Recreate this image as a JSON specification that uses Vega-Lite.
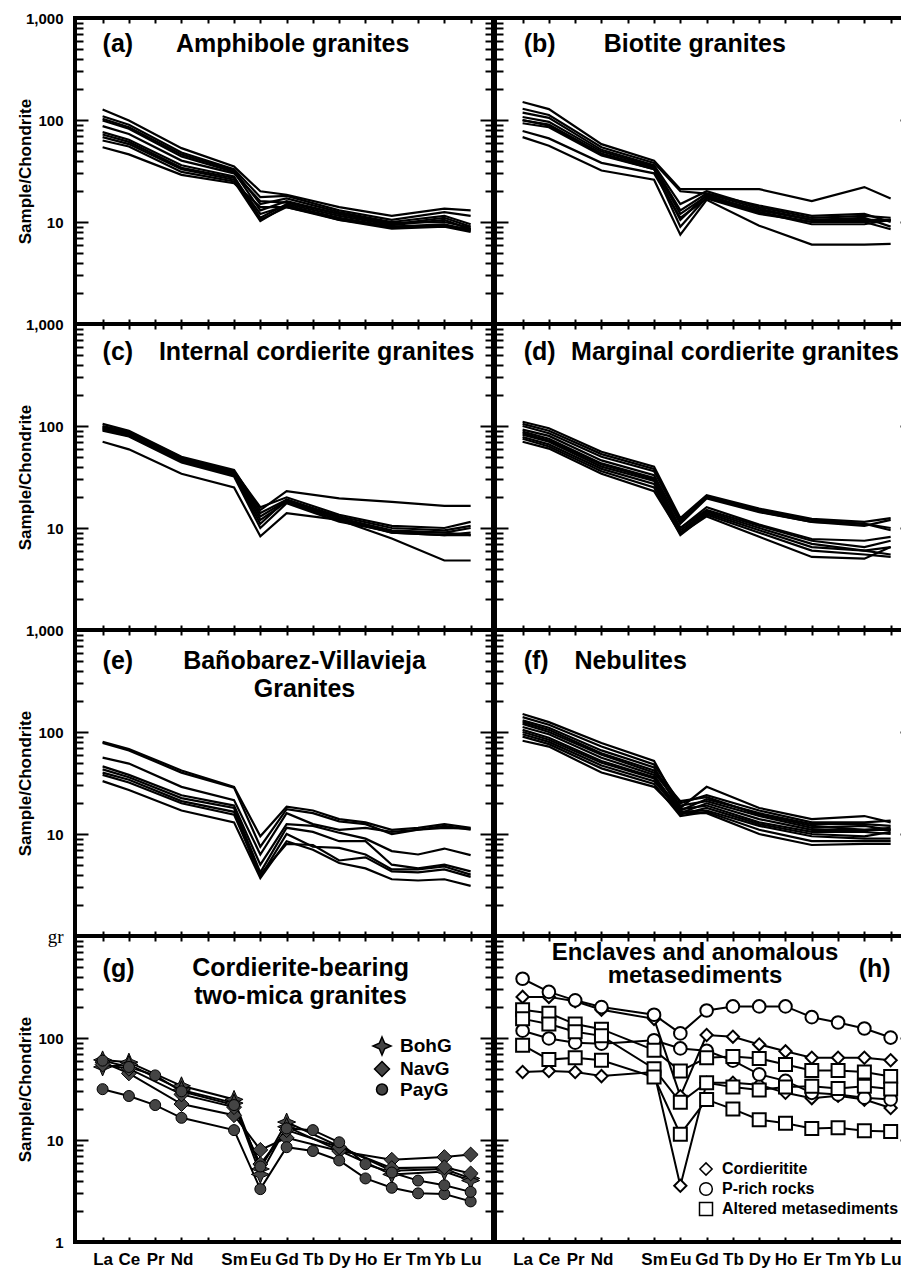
{
"$schema":"https://vega.github.io/schema/vega-lite/v6.json",
"padding":{"left":14,"top":9,"right":0,"bottom":0},
"background":"white",
"config":{
 "view":{"stroke":"black","strokeWidth":4},
 "axis":{"tickColor":"black","tickWidth":2,"domain":false,"grid":false,"labelColor":"black","labelFont":"Liberation Sans","labelFontWeight":"bold","labelFontSize":15,"labelBound":false,"titleFont":"Liberation Sans","titleFontWeight":"bold","titleFontSize":17,"titleColor":"black"},
 "text":{"font":"Liberation Sans","color":"black"}
},
"datasets":{
 "els":[{"el":"La","i":1},{"el":"Ce","i":2},{"el":"Pr","i":3},{"el":"Nd","i":4},{"el":"Sm","i":6},{"el":"Eu","i":7},{"el":"Gd","i":8},{"el":"Tb","i":9},{"el":"Dy","i":10},{"el":"Ho","i":11},{"el":"Er","i":12},{"el":"Tm","i":13},{"el":"Yb","i":14},{"el":"Lu","i":15}],
 "ree":[
  {"p":"a","s":"a1","La":127,"Ce":99,"Nd":53,"Sm":35,"Eu":20,"Gd":18.5,"Dy":14,"Er":11.5,"Yb":13.5,"Lu":13},
  {"p":"a","s":"a2","La":109,"Ce":90,"Nd":48,"Sm":33,"Eu":17.5,"Gd":18,"Dy":13,"Er":10.5,"Yb":12.5,"Lu":11.5},
  {"p":"a","s":"a3","La":103,"Ce":85,"Nd":46,"Sm":32,"Eu":15,"Gd":17,"Dy":12.5,"Er":10,"Yb":11.5,"Lu":9.5},
  {"p":"a","s":"a4","La":99,"Ce":82,"Nd":44,"Sm":31,"Eu":13,"Gd":16,"Dy":12,"Er":9.5,"Yb":11,"Lu":9},
  {"p":"a","s":"a5","La":87,"Ce":73,"Nd":40,"Sm":30,"Eu":16,"Gd":15.5,"Dy":12,"Er":9.8,"Yb":10,"Lu":8.8},
  {"p":"a","s":"a6","La":76,"Ce":64,"Nd":36,"Sm":28,"Eu":11,"Gd":15,"Dy":11.5,"Er":9.3,"Yb":10.5,"Lu":8.5},
  {"p":"a","s":"a7","La":72,"Ce":61,"Nd":34,"Sm":27,"Eu":12,"Gd":14.5,"Dy":11,"Er":9,"Yb":9.5,"Lu":8.3},
  {"p":"a","s":"a8","La":68,"Ce":58,"Nd":33,"Sm":26,"Eu":10.5,"Gd":14,"Dy":10.8,"Er":8.8,"Yb":9.3,"Lu":8.2},
  {"p":"a","s":"a9","La":63,"Ce":55,"Nd":31,"Sm":25,"Eu":10.2,"Gd":14.5,"Dy":10.5,"Er":8.6,"Yb":9,"Lu":8},
  {"p":"a","s":"a10","La":54,"Ce":46,"Nd":29,"Sm":24,"Eu":14,"Gd":14,"Dy":10.5,"Er":9,"Yb":9.2,"Lu":8.5},
  {"p":"b","s":"b1","La":150,"Ce":128,"Nd":58,"Sm":40,"Eu":21,"Gd":21,"Dy":21,"Er":16,"Yb":22,"Lu":17},
  {"p":"b","s":"b2","La":129,"Ce":112,"Nd":54,"Sm":38,"Eu":20,"Gd":19,"Dy":14.5,"Er":11.5,"Yb":12,"Lu":10},
  {"p":"b","s":"b3","La":118,"Ce":105,"Nd":51,"Sm":36,"Eu":15,"Gd":20,"Dy":14,"Er":11,"Yb":11.5,"Lu":11},
  {"p":"b","s":"b4","La":107,"Ce":96,"Nd":49,"Sm":35,"Eu":13,"Gd":19,"Dy":13.5,"Er":10.5,"Yb":11,"Lu":9},
  {"p":"b","s":"b5","La":99,"Ce":90,"Nd":47,"Sm":34,"Eu":12,"Gd":18,"Dy":13,"Er":10.5,"Yb":10.5,"Lu":10.5},
  {"p":"b","s":"b6","La":93,"Ce":85,"Nd":45,"Sm":33,"Eu":10.5,"Gd":18.5,"Dy":12.5,"Er":10,"Yb":10,"Lu":8.5},
  {"p":"b","s":"b7","La":100,"Ce":88,"Nd":46,"Sm":33,"Eu":9,"Gd":17.5,"Dy":12.5,"Er":9.5,"Yb":9.5,"Lu":10.5},
  {"p":"b","s":"b8","La":78,"Ce":66,"Nd":38,"Sm":30,"Eu":11,"Gd":17,"Dy":12,"Er":10,"Yb":10,"Lu":10.5},
  {"p":"b","s":"b9","La":68,"Ce":56,"Nd":32,"Sm":26,"Eu":7.5,"Gd":16.5,"Dy":9.2,"Er":6,"Yb":6,"Lu":6.1},
  {"p":"c","s":"c1","La":105,"Ce":90,"Nd":50,"Sm":37,"Eu":15,"Gd":23,"Dy":19.5,"Er":18,"Yb":16.5,"Lu":16.5},
  {"p":"c","s":"c2","La":100,"Ce":88,"Nd":49,"Sm":36,"Eu":16,"Gd":20,"Dy":13.5,"Er":10.5,"Yb":10,"Lu":11.5},
  {"p":"c","s":"c3","La":98,"Ce":86,"Nd":48,"Sm":35,"Eu":14,"Gd":19,"Dy":13,"Er":10,"Yb":9.5,"Lu":10.5},
  {"p":"c","s":"c4","La":96,"Ce":84,"Nd":47,"Sm":35,"Eu":13,"Gd":18.5,"Dy":12.5,"Er":9.5,"Yb":9,"Lu":10},
  {"p":"c","s":"c5","La":94,"Ce":82,"Nd":46,"Sm":34,"Eu":12,"Gd":18,"Dy":12,"Er":7.9,"Yb":4.8,"Lu":4.8},
  {"p":"c","s":"c6","La":92,"Ce":80,"Nd":45,"Sm":33,"Eu":11,"Gd":19,"Dy":12.5,"Er":9,"Yb":8.5,"Lu":9},
  {"p":"c","s":"c7","La":90,"Ce":79,"Nd":44,"Sm":32,"Eu":10,"Gd":17.5,"Dy":11.5,"Er":9.2,"Yb":9,"Lu":8.5},
  {"p":"c","s":"c8","La":70,"Ce":59,"Nd":34,"Sm":25,"Eu":8.3,"Gd":14,"Dy":12,"Er":9,"Yb":8.5,"Lu":8.5},
  {"p":"d","s":"d1","La":110,"Ce":95,"Nd":56,"Sm":40,"Eu":12.5,"Gd":21,"Dy":15.5,"Er":12.3,"Yb":11.5,"Lu":12.5},
  {"p":"d","s":"d2","La":105,"Ce":90,"Nd":53,"Sm":38,"Eu":11.5,"Gd":20.5,"Dy":15,"Er":12,"Yb":11,"Lu":10},
  {"p":"d","s":"d3","La":100,"Ce":85,"Nd":50,"Sm":36,"Eu":12,"Gd":20,"Dy":14.5,"Er":11.5,"Yb":11,"Lu":9.5},
  {"p":"d","s":"d4","La":92,"Ce":80,"Nd":46,"Sm":33,"Eu":11,"Gd":19.5,"Dy":14.3,"Er":11.5,"Yb":10.5,"Lu":12},
  {"p":"d","s":"d5","La":88,"Ce":75,"Nd":43,"Sm":31,"Eu":10,"Gd":15,"Dy":10.5,"Er":7.5,"Yb":6.5,"Lu":7.5},
  {"p":"d","s":"d6","La":82,"Ce":70,"Nd":40,"Sm":29,"Eu":9.5,"Gd":14.5,"Dy":10,"Er":7,"Yb":6,"Lu":6.5},
  {"p":"d","s":"d7","La":78,"Ce":66,"Nd":38,"Sm":27,"Eu":9,"Gd":14,"Dy":9.5,"Er":6.5,"Yb":6,"Lu":5.5},
  {"p":"d","s":"d8","La":75,"Ce":63,"Nd":36,"Sm":25,"Eu":8.5,"Gd":13.5,"Dy":9,"Er":6,"Yb":5.5,"Lu":5.2},
  {"p":"d","s":"d9","La":70,"Ce":60,"Nd":34,"Sm":23,"Eu":8.8,"Gd":13,"Dy":8.2,"Er":5.2,"Yb":5,"Lu":6.5},
  {"p":"d","s":"d10","La":85,"Ce":72,"Nd":42,"Sm":30,"Eu":10,"Gd":16,"Dy":10.8,"Er":7.8,"Yb":7.5,"Lu":8.2},
  {"p":"e","s":"e1","La":80,"Ce":68,"Nd":42,"Sm":29,"Eu":9.5,"Gd":18.5,"Tb":17,"Dy":14,"Ho":13,"Er":11,"Tm":11.5,"Yb":12.5,"Lu":11.5},
  {"p":"e","s":"e2","La":78,"Ce":66,"Nd":40,"Sm":28.5,"Eu":7.5,"Gd":17.5,"Tb":16,"Dy":13.3,"Ho":12.5,"Er":10,"Tm":11,"Yb":12,"Lu":11},
  {"p":"e","s":"e3","La":56,"Ce":49,"Nd":29,"Sm":21.5,"Eu":6.3,"Gd":16,"Tb":12.5,"Dy":11,"Ho":11.5,"Er":10.5,"Tm":11,"Yb":11.5,"Lu":11.3},
  {"p":"e","s":"e4","La":46,"Ce":38,"Nd":24,"Sm":19,"Eu":5,"Gd":12.5,"Tb":12,"Dy":10.3,"Ho":9,"Er":6.8,"Tm":6.3,"Yb":7.2,"Lu":6.2},
  {"p":"e","s":"e5","La":43,"Ce":36,"Nd":22.5,"Sm":18,"Eu":4.2,"Gd":11.5,"Tb":10.5,"Dy":8.5,"Ho":8.5,"Er":5,"Tm":4.6,"Yb":5,"Lu":4.3},
  {"p":"e","s":"e6","La":40,"Ce":34,"Nd":21,"Sm":16.5,"Eu":3.8,"Gd":10,"Tb":7.5,"Dy":7.3,"Ho":6.3,"Er":4.5,"Tm":4.5,"Yb":4.8,"Lu":4},
  {"p":"e","s":"e7","La":38,"Ce":32,"Nd":20,"Sm":15.5,"Eu":4,"Gd":8,"Tb":7.8,"Dy":5.5,"Ho":5.9,"Er":4.3,"Tm":4.2,"Yb":4.5,"Lu":3.8},
  {"p":"e","s":"e8","La":33,"Ce":27,"Nd":17,"Sm":13,"Eu":3.7,"Gd":8.5,"Tb":7,"Dy":5.2,"Ho":4.6,"Er":3.6,"Tm":3.5,"Yb":3.6,"Lu":3.1},
  {"p":"f","s":"f1","La":150,"Ce":125,"Nd":78,"Sm":52,"Eu":18,"Gd":29,"Dy":18,"Er":14,"Yb":15,"Lu":13},
  {"p":"f","s":"f2","La":140,"Ce":118,"Nd":72,"Sm":48,"Eu":20,"Gd":24,"Dy":17,"Er":13,"Yb":13,"Lu":13.5},
  {"p":"f","s":"f3","La":130,"Ce":110,"Nd":66,"Sm":45,"Eu":17,"Gd":22,"Dy":16,"Er":12.5,"Yb":12.5,"Lu":12},
  {"p":"f","s":"f4","La":125,"Ce":105,"Nd":62,"Sm":42,"Eu":21,"Gd":23,"Dy":15.5,"Er":12,"Yb":11,"Lu":11},
  {"p":"f","s":"f5","La":120,"Ce":100,"Nd":60,"Sm":40,"Eu":19,"Gd":21,"Dy":15,"Er":11.5,"Yb":12,"Lu":11},
  {"p":"f","s":"f6","La":112,"Ce":95,"Nd":56,"Sm":38,"Eu":16,"Gd":20,"Dy":14,"Er":11,"Yb":11,"Lu":11.5},
  {"p":"f","s":"f7","La":105,"Ce":88,"Nd":52,"Sm":36,"Eu":17.5,"Gd":19,"Dy":13,"Er":10.5,"Yb":10.5,"Lu":10},
  {"p":"f","s":"f8","La":100,"Ce":84,"Nd":50,"Sm":35,"Eu":15.5,"Gd":18,"Dy":12.5,"Er":10,"Yb":9.5,"Lu":10.5},
  {"p":"f","s":"f9","La":95,"Ce":80,"Nd":47,"Sm":33,"Eu":16.5,"Gd":17,"Dy":12,"Er":9.5,"Yb":9,"Lu":9},
  {"p":"f","s":"f10","La":90,"Ce":76,"Nd":44,"Sm":31,"Eu":15,"Gd":16.5,"Dy":11,"Er":8.5,"Yb":8.5,"Lu":8.5},
  {"p":"f","s":"f11","La":82,"Ce":72,"Nd":40,"Sm":29,"Eu":16,"Gd":16,"Dy":10,"Er":7.8,"Yb":8,"Lu":8},
  {"p":"g","s":"g1","g":"BohG","La":61,"Ce":58,"Nd":34,"Sm":25,"Eu":5.2,"Gd":15,"Er":5,"Yb":5.2,"Lu":4.2},
  {"p":"g","s":"g2","g":"BohG","La":52,"Ce":55,"Nd":31,"Sm":23,"Eu":4.6,"Gd":13.5,"Er":4.6,"Yb":4.9,"Lu":4},
  {"p":"g","s":"g3","g":"NavG","La":58,"Ce":45,"Nd":22.5,"Sm":17.5,"Eu":8,"Gd":10.5,"Dy":7.8,"Er":6.4,"Yb":6.8,"Lu":7.2},
  {"p":"g","s":"g4","g":"NavG","La":55,"Ce":50,"Nd":28,"Sm":21,"Eu":5.8,"Gd":12.5,"Dy":8.5,"Er":5.3,"Yb":5.4,"Lu":4.7},
  {"p":"g","s":"g5","g":"PayG","La":31.5,"Ce":27,"Pr":22,"Nd":16.5,"Sm":12.5,"Eu":3.3,"Gd":8.5,"Tb":7.8,"Dy":6.3,"Ho":4.2,"Er":3.4,"Tm":3,"Yb":2.95,"Lu":2.5},
  {"p":"g","s":"g6","g":"PayG","La":60,"Ce":52,"Pr":43,"Nd":30,"Sm":22,"Eu":5.5,"Gd":13,"Tb":12.5,"Dy":9.5,"Ho":5.8,"Er":4.8,"Tm":4,"Yb":3.6,"Lu":3.1},
  {"p":"h","s":"h1","g":"Cordieritite","La":253,"Ce":253,"Pr":229,"Nd":189,"Sm":154,"Eu":26.9,"Gd":107,"Tb":103,"Dy":86.5,"Ho":74,"Er":64,"Tm":64,"Yb":64,"Lu":60.5},
  {"p":"h","s":"h2","g":"Cordieritite","La":46.4,"Ce":47.4,"Pr":46.4,"Nd":42.3,"Sm":46.4,"Eu":3.56,"Gd":36.4,"Tb":36.4,"Dy":34.8,"Ho":29,"Er":25.7,"Tm":27.2,"Yb":24.9,"Lu":20.6},
  {"p":"h","s":"h3","g":"P-rich rocks","La":381,"Ce":283,"Pr":234,"Nd":201,"Sm":169,"Eu":111,"Gd":186,"Tb":204,"Dy":204,"Ho":204,"Er":160,"Tm":142,"Yb":124,"Lu":101},
  {"p":"h","s":"h4","g":"P-rich rocks","La":118,"Ce":99,"Pr":90,"Nd":88,"Sm":95,"Eu":79,"Gd":75,"Tb":60,"Dy":44,"Ho":38,"Er":29,"Tm":28,"Yb":26,"Lu":25},
  {"p":"h","s":"h5","g":"Altered metasediments","La":189,"Ce":175,"Pr":137,"Nd":122,"Sm":76,"Eu":47.4,"Gd":64,"Tb":66,"Dy":63,"Ho":55,"Er":48,"Tm":48,"Yb":46.4,"Lu":42},
  {"p":"h","s":"h6","g":"Altered metasediments","La":154,"Ce":137,"Pr":115,"Nd":105,"Sm":50,"Eu":23.4,"Gd":36.4,"Tb":33,"Dy":31,"Ho":33,"Er":33.7,"Tm":32,"Yb":33.7,"Lu":31.7},
  {"p":"h","s":"h7","g":"Altered metasediments","La":85,"Ce":61.4,"Pr":64,"Nd":60.5,"Sm":41.4,"Eu":11.4,"Gd":24.9,"Tb":20.1,"Dy":15.8,"Ho":14.6,"Er":13,"Tm":13.2,"Yb":12.3,"Lu":12.1}
 ]
},
"columns":2,
"spacing":{"row":0,"column":2},
"align":"each",
"bounds":"flush",
"resolve":{"scale":{"shape":"independent","size":"independent"},"legend":{"shape":"independent","size":"independent"}},
"concat":[
 {"width":418,"height":306,"data":{"name":"ree"},
  "transform":[{"filter":"datum.p=='a'"},{"fold":["La","Ce","Pr","Nd","Sm","Eu","Gd","Tb","Dy","Ho","Er","Tm","Yb","Lu"],"as":["el","v"]},{"filter":"isValid(datum.v)"},{"lookup":"el","from":{"data":{"name":"els"},"key":"el","fields":["i"]}}],
  "layer":[
   {"mark":{"type":"line","color":"black","strokeWidth":2.2},
    "encoding":{"x":{"field":"i","type":"quantitative","scale":{"domain":[-0.05,15.85],"nice":false,"zero":false},"axis":{"orient":"bottom","values":[1,2,3,4,5,6,7,8,9,10,11,12,13,14,15],"tickSize":-5,"labels":false,"title":null}},
     "y":{"field":"v","type":"quantitative","scale":{"type":"log","domain":[1,1000],"nice":false},"axis":{"orient":"left","values":[1,2,3,4,5,6,7,8,9,10,20,30,40,50,60,70,80,90,100,200,300,400,500,600,700,800,900,1000],"tickSize":{"condition":{"test":"datum.value==1||datum.value==10||datum.value==100||datum.value==1000","value":-13},"value":-8},"labelExpr":"datum.value==1000?'1,000':datum.value==100?'100':datum.value==10?'10':''","labelPadding":25,"labelOverlap":false,"title":"Sample/Chondrite","titleX":-50,"titleY":153,"titleAngle":-90,"titleAlign":"center","titleBaseline":"middle"}},
     "detail":{"field":"s","type":"nominal"}}},
   {"mark":{"type":"point","opacity":0},
    "encoding":{"x":{"field":"i","type":"quantitative","axis":{"orient":"top","values":[1,2,3,4,5,6,7,8,9,10,11,12,13,14,15],"tickSize":-5,"labels":false,"title":null}},
     "y":{"field":"v","type":"quantitative","axis":{"orient":"right","values":[1,2,3,4,5,6,7,8,9,10,20,30,40,50,60,70,80,90,100,200,300,400,500,600,700,800,900,1000],"tickSize":{"condition":{"test":"datum.value==1||datum.value==10||datum.value==100||datum.value==1000","value":-13},"value":-8},"labels":false,"title":null}}}},
   {"data":{"values":[{}]},"mark":{"type":"text","text":"(a)","align":"left","baseline":"middle","fontSize":25,"fontWeight":"bold"},"encoding":{"x":{"datum":1.0,"type":"quantitative","axis":null},"y":{"datum":556,"type":"quantitative","axis":null}}},
   {"data":{"values":[{}]},"mark":{"type":"text","text":"Amphibole granites","align":"center","baseline":"middle","fontSize":25,"fontWeight":"bold"},"encoding":{"x":{"datum":8.23,"type":"quantitative","axis":null},"y":{"datum":556,"type":"quantitative","axis":null}}}
  ]},
 {"width":418,"height":306,"data":{"name":"ree"},
  "transform":[{"filter":"datum.p=='b'"},{"fold":["La","Ce","Pr","Nd","Sm","Eu","Gd","Tb","Dy","Ho","Er","Tm","Yb","Lu"],"as":["el","v"]},{"filter":"isValid(datum.v)"},{"lookup":"el","from":{"data":{"name":"els"},"key":"el","fields":["i"]}}],
  "layer":[
   {"mark":{"type":"line","color":"black","strokeWidth":2.2},
    "encoding":{"x":{"field":"i","type":"quantitative","scale":{"domain":[-0.05,15.85],"nice":false,"zero":false},"axis":{"orient":"bottom","values":[1,2,3,4,5,6,7,8,9,10,11,12,13,14,15],"tickSize":-5,"labels":false,"title":null}},
     "y":{"field":"v","type":"quantitative","scale":{"type":"log","domain":[1,1000],"nice":false},"axis":{"orient":"left","values":[1,2,3,4,5,6,7,8,9,10,20,30,40,50,60,70,80,90,100,200,300,400,500,600,700,800,900,1000],"tickSize":{"condition":{"test":"datum.value==1||datum.value==10||datum.value==100||datum.value==1000","value":-13},"value":-8},"labels":false,"title":null}},
     "detail":{"field":"s","type":"nominal"}}},
   {"mark":{"type":"point","opacity":0},
    "encoding":{"x":{"field":"i","type":"quantitative","axis":{"orient":"top","values":[1,2,3,4,5,6,7,8,9,10,11,12,13,14,15],"tickSize":-5,"labels":false,"title":null}},
     "y":{"field":"v","type":"quantitative","axis":{"orient":"right","values":[1,2,3,4,5,6,7,8,9,10,20,30,40,50,60,70,80,90,100,200,300,400,500,600,700,800,900,1000],"tickSize":{"condition":{"test":"datum.value==1||datum.value==10||datum.value==100||datum.value==1000","value":-13},"value":-8},"labels":false,"title":null}}}},
   {"data":{"values":[{}]},"mark":{"type":"text","text":"(b)","align":"left","baseline":"middle","fontSize":25,"fontWeight":"bold"},"encoding":{"x":{"datum":1.04,"type":"quantitative","axis":null},"y":{"datum":556,"type":"quantitative","axis":null}}},
   {"data":{"values":[{}]},"mark":{"type":"text","text":"Biotite granites","align":"center","baseline":"middle","fontSize":25,"fontWeight":"bold"},"encoding":{"x":{"datum":7.55,"type":"quantitative","axis":null},"y":{"datum":556,"type":"quantitative","axis":null}}}
  ]},
 {"width":418,"height":306,"data":{"name":"ree"},
  "transform":[{"filter":"datum.p=='c'"},{"fold":["La","Ce","Pr","Nd","Sm","Eu","Gd","Tb","Dy","Ho","Er","Tm","Yb","Lu"],"as":["el","v"]},{"filter":"isValid(datum.v)"},{"lookup":"el","from":{"data":{"name":"els"},"key":"el","fields":["i"]}}],
  "layer":[
   {"mark":{"type":"line","color":"black","strokeWidth":2.2},
    "encoding":{"x":{"field":"i","type":"quantitative","scale":{"domain":[-0.05,15.85],"nice":false,"zero":false},"axis":{"orient":"bottom","values":[1,2,3,4,5,6,7,8,9,10,11,12,13,14,15],"tickSize":-5,"labels":false,"title":null}},
     "y":{"field":"v","type":"quantitative","scale":{"type":"log","domain":[1,1000],"nice":false},"axis":{"orient":"left","values":[1,2,3,4,5,6,7,8,9,10,20,30,40,50,60,70,80,90,100,200,300,400,500,600,700,800,900,1000],"tickSize":{"condition":{"test":"datum.value==1||datum.value==10||datum.value==100||datum.value==1000","value":-13},"value":-8},"labelExpr":"datum.value==1000?'1,000':datum.value==100?'100':datum.value==10?'10':''","labelPadding":25,"labelOverlap":false,"title":"Sample/Chondrite","titleX":-50,"titleY":153,"titleAngle":-90,"titleAlign":"center","titleBaseline":"middle"}},
     "detail":{"field":"s","type":"nominal"}}},
   {"mark":{"type":"point","opacity":0},
    "encoding":{"x":{"field":"i","type":"quantitative","axis":{"orient":"top","values":[1,2,3,4,5,6,7,8,9,10,11,12,13,14,15],"tickSize":-5,"labels":false,"title":null}},
     "y":{"field":"v","type":"quantitative","axis":{"orient":"right","values":[1,2,3,4,5,6,7,8,9,10,20,30,40,50,60,70,80,90,100,200,300,400,500,600,700,800,900,1000],"tickSize":{"condition":{"test":"datum.value==1||datum.value==10||datum.value==100||datum.value==1000","value":-13},"value":-8},"labels":false,"title":null}}}},
   {"data":{"values":[{}]},"mark":{"type":"text","text":"(c)","align":"left","baseline":"middle","fontSize":25,"fontWeight":"bold"},"encoding":{"x":{"datum":1.0,"type":"quantitative","axis":null},"y":{"datum":531,"type":"quantitative","axis":null}}},
   {"data":{"values":[{}]},"mark":{"type":"text","text":"Internal cordierite granites","align":"center","baseline":"middle","fontSize":25,"fontWeight":"bold"},"encoding":{"x":{"datum":9.14,"type":"quantitative","axis":null},"y":{"datum":531,"type":"quantitative","axis":null}}}
  ]},
 {"width":418,"height":306,"data":{"name":"ree"},
  "transform":[{"filter":"datum.p=='d'"},{"fold":["La","Ce","Pr","Nd","Sm","Eu","Gd","Tb","Dy","Ho","Er","Tm","Yb","Lu"],"as":["el","v"]},{"filter":"isValid(datum.v)"},{"lookup":"el","from":{"data":{"name":"els"},"key":"el","fields":["i"]}}],
  "layer":[
   {"mark":{"type":"line","color":"black","strokeWidth":2.2},
    "encoding":{"x":{"field":"i","type":"quantitative","scale":{"domain":[-0.05,15.85],"nice":false,"zero":false},"axis":{"orient":"bottom","values":[1,2,3,4,5,6,7,8,9,10,11,12,13,14,15],"tickSize":-5,"labels":false,"title":null}},
     "y":{"field":"v","type":"quantitative","scale":{"type":"log","domain":[1,1000],"nice":false},"axis":{"orient":"left","values":[1,2,3,4,5,6,7,8,9,10,20,30,40,50,60,70,80,90,100,200,300,400,500,600,700,800,900,1000],"tickSize":{"condition":{"test":"datum.value==1||datum.value==10||datum.value==100||datum.value==1000","value":-13},"value":-8},"labels":false,"title":null}},
     "detail":{"field":"s","type":"nominal"}}},
   {"mark":{"type":"point","opacity":0},
    "encoding":{"x":{"field":"i","type":"quantitative","axis":{"orient":"top","values":[1,2,3,4,5,6,7,8,9,10,11,12,13,14,15],"tickSize":-5,"labels":false,"title":null}},
     "y":{"field":"v","type":"quantitative","axis":{"orient":"right","values":[1,2,3,4,5,6,7,8,9,10,20,30,40,50,60,70,80,90,100,200,300,400,500,600,700,800,900,1000],"tickSize":{"condition":{"test":"datum.value==1||datum.value==10||datum.value==100||datum.value==1000","value":-13},"value":-8},"labels":false,"title":null}}}},
   {"data":{"values":[{}]},"mark":{"type":"text","text":"(d)","align":"left","baseline":"middle","fontSize":25,"fontWeight":"bold"},"encoding":{"x":{"datum":1.04,"type":"quantitative","axis":null},"y":{"datum":531,"type":"quantitative","axis":null}}},
   {"data":{"values":[{}]},"mark":{"type":"text","text":"Marginal cordierite granites","align":"center","baseline":"middle","fontSize":25,"fontWeight":"bold"},"encoding":{"x":{"datum":9.08,"type":"quantitative","axis":null},"y":{"datum":531,"type":"quantitative","axis":null}}}
  ]},
 {"width":418,"height":306,"data":{"name":"ree"},
  "transform":[{"filter":"datum.p=='e'"},{"fold":["La","Ce","Pr","Nd","Sm","Eu","Gd","Tb","Dy","Ho","Er","Tm","Yb","Lu"],"as":["el","v"]},{"filter":"isValid(datum.v)"},{"lookup":"el","from":{"data":{"name":"els"},"key":"el","fields":["i"]}}],
  "layer":[
   {"mark":{"type":"line","color":"black","strokeWidth":2.2},
    "encoding":{"x":{"field":"i","type":"quantitative","scale":{"domain":[-0.05,15.85],"nice":false,"zero":false},"axis":{"orient":"bottom","values":[1,2,3,4,5,6,7,8,9,10,11,12,13,14,15],"tickSize":-5,"labels":false,"title":null}},
     "y":{"field":"v","type":"quantitative","scale":{"type":"log","domain":[1,1000],"nice":false},"axis":{"orient":"left","values":[1,2,3,4,5,6,7,8,9,10,20,30,40,50,60,70,80,90,100,200,300,400,500,600,700,800,900,1000],"tickSize":{"condition":{"test":"datum.value==1||datum.value==10||datum.value==100||datum.value==1000","value":-13},"value":-8},"labelExpr":"datum.value==1000?'1,000':datum.value==100?'100':datum.value==10?'10':''","labelPadding":25,"labelOverlap":false,"title":"Sample/Chondrite","titleX":-50,"titleY":153,"titleAngle":-90,"titleAlign":"center","titleBaseline":"middle"}},
     "detail":{"field":"s","type":"nominal"}}},
   {"mark":{"type":"point","opacity":0},
    "encoding":{"x":{"field":"i","type":"quantitative","axis":{"orient":"top","values":[1,2,3,4,5,6,7,8,9,10,11,12,13,14,15],"tickSize":-5,"labels":false,"title":null}},
     "y":{"field":"v","type":"quantitative","axis":{"orient":"right","values":[1,2,3,4,5,6,7,8,9,10,20,30,40,50,60,70,80,90,100,200,300,400,500,600,700,800,900,1000],"tickSize":{"condition":{"test":"datum.value==1||datum.value==10||datum.value==100||datum.value==1000","value":-13},"value":-8},"labels":false,"title":null}}}},
   {"data":{"values":[{}]},"mark":{"type":"text","text":"(e)","align":"left","baseline":"middle","fontSize":25,"fontWeight":"bold"},"encoding":{"x":{"datum":1.0,"type":"quantitative","axis":null},"y":{"datum":496,"type":"quantitative","axis":null}}},
   {"data":{"values":[{}]},"mark":{"type":"text","text":["Bañobarez-Villavieja","Granites"],"lineHeight":28,"align":"center","baseline":"middle","fontSize":25,"fontWeight":"bold"},"encoding":{"x":{"datum":8.68,"type":"quantitative","axis":null},"y":{"datum":496,"type":"quantitative","axis":null}}}
  ]},
 {"width":418,"height":306,"data":{"name":"ree"},
  "transform":[{"filter":"datum.p=='f'"},{"fold":["La","Ce","Pr","Nd","Sm","Eu","Gd","Tb","Dy","Ho","Er","Tm","Yb","Lu"],"as":["el","v"]},{"filter":"isValid(datum.v)"},{"lookup":"el","from":{"data":{"name":"els"},"key":"el","fields":["i"]}}],
  "layer":[
   {"mark":{"type":"line","color":"black","strokeWidth":2.2},
    "encoding":{"x":{"field":"i","type":"quantitative","scale":{"domain":[-0.05,15.85],"nice":false,"zero":false},"axis":{"orient":"bottom","values":[1,2,3,4,5,6,7,8,9,10,11,12,13,14,15],"tickSize":-5,"labels":false,"title":null}},
     "y":{"field":"v","type":"quantitative","scale":{"type":"log","domain":[1,1000],"nice":false},"axis":{"orient":"left","values":[1,2,3,4,5,6,7,8,9,10,20,30,40,50,60,70,80,90,100,200,300,400,500,600,700,800,900,1000],"tickSize":{"condition":{"test":"datum.value==1||datum.value==10||datum.value==100||datum.value==1000","value":-13},"value":-8},"labels":false,"title":null}},
     "detail":{"field":"s","type":"nominal"}}},
   {"mark":{"type":"point","opacity":0},
    "encoding":{"x":{"field":"i","type":"quantitative","axis":{"orient":"top","values":[1,2,3,4,5,6,7,8,9,10,11,12,13,14,15],"tickSize":-5,"labels":false,"title":null}},
     "y":{"field":"v","type":"quantitative","axis":{"orient":"right","values":[1,2,3,4,5,6,7,8,9,10,20,30,40,50,60,70,80,90,100,200,300,400,500,600,700,800,900,1000],"tickSize":{"condition":{"test":"datum.value==1||datum.value==10||datum.value==100||datum.value==1000","value":-13},"value":-8},"labels":false,"title":null}}}},
   {"data":{"values":[{}]},"mark":{"type":"text","text":"(f)","align":"left","baseline":"middle","fontSize":25,"fontWeight":"bold"},"encoding":{"x":{"datum":1.04,"type":"quantitative","axis":null},"y":{"datum":496,"type":"quantitative","axis":null}}},
   {"data":{"values":[{}]},"mark":{"type":"text","text":"Nebulites","align":"center","baseline":"middle","fontSize":25,"fontWeight":"bold"},"encoding":{"x":{"datum":5.11,"type":"quantitative","axis":null},"y":{"datum":496,"type":"quantitative","axis":null}}}
  ]},
 {"width":418,"height":306,"data":{"name":"ree"},
  "transform":[{"filter":"datum.p=='g'"},{"fold":["La","Ce","Pr","Nd","Sm","Eu","Gd","Tb","Dy","Ho","Er","Tm","Yb","Lu"],"as":["el","v"]},{"filter":"isValid(datum.v)"},{"lookup":"el","from":{"data":{"name":"els"},"key":"el","fields":["i"]}}],
  "layer":[
   {"mark":{"type":"line","color":"black","strokeWidth":2},
    "encoding":{"x":{"field":"i","type":"quantitative","scale":{"domain":[-0.05,15.85],"nice":false,"zero":false},"axis":{"orient":"bottom","values":[1,2,3,4,5,6,7,8,9,10,11,12,13,14,15],"tickSize":-5,"labelExpr":"['','La','Ce','Pr','Nd','','Sm','Eu','Gd','Tb','Dy','Ho','Er','Tm','Yb','Lu'][datum.value]","labelPadding":14,"labelFontSize":17,"labelFlush":false,"labelOverlap":false,"title":null}},
     "y":{"field":"v","type":"quantitative","scale":{"type":"log","domain":[1,1000],"nice":false},"axis":{"orient":"left","values":[1,2,3,4,5,6,7,8,9,10,20,30,40,50,60,70,80,90,100,200,300,400,500,600,700,800,900,1000],"tickSize":{"condition":{"test":"datum.value==1||datum.value==10||datum.value==100||datum.value==1000","value":-13},"value":-8},"labelExpr":"datum.value==1000?'gr':datum.value==100?'100':datum.value==10?'10':datum.value==1?'1':''","labelFont":{"condition":{"test":"datum.value==1000","value":"Liberation Serif"},"value":"Liberation Sans"},"labelFontWeight":{"condition":{"test":"datum.value==1000","value":"normal"},"value":"bold"},"labelFontSize":{"condition":{"test":"datum.value==1000","value":19},"value":15},"labelPadding":25,"labelOverlap":false,"title":"Sample/Chondrite","titleX":-50,"titleY":153,"titleAngle":-90,"titleAlign":"center","titleBaseline":"middle"}},
     "detail":{"field":"s","type":"nominal"}}},
   {"mark":{"type":"point","filled":true,"fill":"#444444","stroke":"black","strokeWidth":1,"opacity":1},
    "encoding":{"x":{"field":"i","type":"quantitative","axis":{"orient":"top","values":[1,2,3,4,5,6,7,8,9,10,11,12,13,14,15],"tickSize":-5,"labels":false,"title":null}},
     "y":{"field":"v","type":"quantitative","axis":{"orient":"right","values":[1,2,3,4,5,6,7,8,9,10,20,30,40,50,60,70,80,90,100,200,300,400,500,600,700,800,900,1000],"tickSize":{"condition":{"test":"datum.value==1||datum.value==10||datum.value==100||datum.value==1000","value":-13},"value":-8},"labels":false,"title":null}},
     "shape":{"field":"g","type":"nominal","scale":{"domain":["BohG","NavG","PayG"],"range":["M0,-1L0.3,-0.3L1,0L0.3,0.3L0,1L-0.3,0.3L-1,0L-0.3,-0.3Z","diamond","circle"]},"legend":{"orient":"none","legendX":297,"legendY":100,"title":null,"labelFontSize":19,"labelFontWeight":"bold","labelFont":"Liberation Sans","labelColor":"black","labelOffset":8,"rowPadding":0.5,"encode":{"symbols":{"update":{"fill":{"value":"#444444"},"stroke":{"value":"black"},"strokeWidth":{"value":1},"opacity":{"value":1}}}}}},
     "size":{"field":"g","type":"nominal","scale":{"domain":["BohG","NavG","PayG"],"range":[324,121,100]},"legend":{"orient":"none","legendX":297,"legendY":100,"title":null,"labelFontSize":19,"labelFontWeight":"bold","labelFont":"Liberation Sans","labelColor":"black","labelOffset":8,"rowPadding":0.5,"encode":{"symbols":{"update":{"fill":{"value":"#444444"},"stroke":{"value":"black"},"strokeWidth":{"value":1},"opacity":{"value":1}}}}}}}},
   {"data":{"values":[{}]},"mark":{"type":"text","text":"(g)","align":"left","baseline":"middle","fontSize":25,"fontWeight":"bold"},"encoding":{"x":{"datum":1.0,"type":"quantitative","axis":null},"y":{"datum":475,"type":"quantitative","axis":null}}},
   {"data":{"values":[{}]},"mark":{"type":"text","text":["Cordierite-bearing","two-mica granites"],"lineHeight":28,"align":"center","baseline":"middle","fontSize":25,"fontWeight":"bold"},"encoding":{"x":{"datum":8.53,"type":"quantitative","axis":null},"y":{"datum":486,"type":"quantitative","axis":null}}}
  ]},
 {"width":418,"height":306,"data":{"name":"ree"},
  "transform":[{"filter":"datum.p=='h'"},{"fold":["La","Ce","Pr","Nd","Sm","Eu","Gd","Tb","Dy","Ho","Er","Tm","Yb","Lu"],"as":["el","v"]},{"filter":"isValid(datum.v)"},{"lookup":"el","from":{"data":{"name":"els"},"key":"el","fields":["i"]}}],
  "layer":[
   {"mark":{"type":"line","color":"black","strokeWidth":2},
    "encoding":{"x":{"field":"i","type":"quantitative","scale":{"domain":[-0.05,15.85],"nice":false,"zero":false},"axis":{"orient":"bottom","values":[1,2,3,4,5,6,7,8,9,10,11,12,13,14,15],"tickSize":-5,"labelExpr":"['','La','Ce','Pr','Nd','','Sm','Eu','Gd','Tb','Dy','Ho','Er','Tm','Yb','Lu'][datum.value]","labelPadding":14,"labelFontSize":17,"labelFlush":false,"labelOverlap":false,"title":null}},
     "y":{"field":"v","type":"quantitative","scale":{"type":"log","domain":[1,1000],"nice":false},"axis":{"orient":"left","values":[1,2,3,4,5,6,7,8,9,10,20,30,40,50,60,70,80,90,100,200,300,400,500,600,700,800,900,1000],"tickSize":{"condition":{"test":"datum.value==1||datum.value==10||datum.value==100||datum.value==1000","value":-13},"value":-8},"labels":false,"title":null}},
     "detail":{"field":"s","type":"nominal"}}},
   {"mark":{"type":"point","filled":true,"fill":"white","stroke":"black","strokeWidth":2,"opacity":1},
    "encoding":{"x":{"field":"i","type":"quantitative","axis":{"orient":"top","values":[1,2,3,4,5,6,7,8,9,10,11,12,13,14,15],"tickSize":-5,"labels":false,"title":null}},
     "y":{"field":"v","type":"quantitative","axis":{"orient":"right","values":[1,2,3,4,5,6,7,8,9,10,20,30,40,50,60,70,80,90,100,200,300,400,500,600,700,800,900,1000],"tickSize":{"condition":{"test":"datum.value==1||datum.value==10||datum.value==100||datum.value==1000","value":-13},"value":-8},"labels":false,"title":null}},
     "shape":{"field":"g","type":"nominal","scale":{"domain":["Cordieritite","P-rich rocks","Altered metasediments"],"range":["diamond","circle","square"]},"legend":{"orient":"none","legendX":203,"legendY":225,"title":null,"labelFontSize":16,"labelFontWeight":"bold","labelFont":"Liberation Sans","labelColor":"black","labelOffset":8,"labelLimit":300,"rowPadding":0,"encode":{"symbols":{"update":{"fill":{"value":"white"},"stroke":{"value":"black"},"strokeWidth":{"value":2},"opacity":{"value":1}}}}}},
     "size":{"field":"g","type":"nominal","scale":{"domain":["Cordieritite","P-rich rocks","Altered metasediments"],"range":[150,169,110]},"legend":{"orient":"none","legendX":203,"legendY":225,"title":null,"labelFontSize":16,"labelFontWeight":"bold","labelFont":"Liberation Sans","labelColor":"black","labelOffset":8,"labelLimit":300,"rowPadding":0,"encode":{"symbols":{"update":{"fill":{"value":"white"},"stroke":{"value":"black"},"strokeWidth":{"value":2},"opacity":{"value":1}}}}}}}},
   {"data":{"values":[{}]},"mark":{"type":"text","text":["Enclaves and anomalous","metasediments"],"lineHeight":23,"align":"center","baseline":"middle","fontSize":24,"fontWeight":"bold"},"encoding":{"x":{"datum":7.56,"type":"quantitative","axis":null},"y":{"datum":680,"type":"quantitative","axis":null}}},
   {"data":{"values":[{}]},"mark":{"type":"text","text":"(h)","align":"center","baseline":"middle","fontSize":25,"fontWeight":"bold"},"encoding":{"x":{"datum":14.39,"type":"quantitative","axis":null},"y":{"datum":475,"type":"quantitative","axis":null}}}
  ]}
]
}
